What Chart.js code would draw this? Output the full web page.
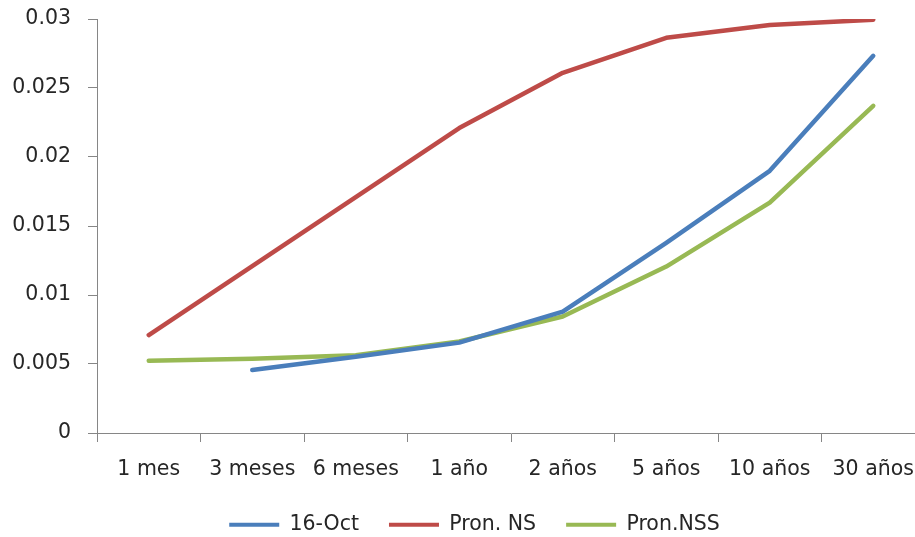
<!DOCTYPE html>
<html>
<head>
<meta charset="utf-8">
<script src="https://cdn.jsdelivr.net/npm/chart.js@4/dist/chart.umd.min.js"></script>
<style>
html,body{margin:0;padding:0;background:#fff;overflow:hidden;width:915px;height:537px;}
#wrap{position:absolute;left:0;top:0;width:966px;height:537px;}
</style>
</head>
<body>
<div id="wrap"><canvas id="c" width="966" height="537"></canvas></div>
<script>
const categories = ["1 mes","3 meses","6 meses","1 año","2 años","5 años","10 años","30 años"];
const seriesNames = ["16-Oct","Pron. NS","Pron.NSS"];
const octValues = [null,0.00457,0.00553,0.00655,0.0088,0.01378,0.0190,0.02733];
const nsValues = [0.0071,0.0121,0.0171,0.0221,0.0261,0.02864,0.02956,0.02995];
const nssValues = [0.00524,0.00538,0.00563,0.00663,0.00844,0.01206,0.0167,0.02371];
const yTicks = [0,0.005,0.01,0.015,0.02,0.025,0.03];
const yTickLabels = ["0","0.005","0.01","0.015","0.02","0.025","0.03"];

const FONT = "'DejaVu Sans', sans-serif";
const TXT = '#262626';
const AXIS = '#868686';

const legendShift = {
  id:'legendShift',
  afterLayout(chart){
    const l = chart.legend;
    if(!l) return;
    l.left += 12; l.right += 12;
    l.top += 8; l.bottom += 8;
  }
};

new Chart(document.getElementById('c'), {
  type: 'line',
  data: {
    labels: categories,
    datasets: [
      {label: seriesNames[0], data: octValues, borderColor:'#4a7ebb', backgroundColor:'#4a7ebb'},
      {label: seriesNames[1], data: nsValues, borderColor:'#be4b48', backgroundColor:'#be4b48'},
      {label: seriesNames[2], data: nssValues, borderColor:'#98b954', backgroundColor:'#98b954'}
    ].map(d => Object.assign(d, {borderWidth:4.5, pointRadius:0, tension:0, borderCapStyle:'round', borderJoinStyle:'round', fill:false}))
  },
  plugins:[legendShift],
  options: {
    responsive:false,
    animation:false,
    layout:{padding:{left:0,right:41,top:19,bottom:0}},
    plugins:{
      tooltip:{enabled:false},
      legend:{
        position:'bottom',
        labels:{
          font:{family:FONT,size:20.5},
          color:TXT,
          boxWidth:50,
          boxHeight:4,
          padding:30,
          generateLabels(chart){
            return chart.data.datasets.map((d,i)=>({text:d.label, fillStyle:d.borderColor, strokeStyle:d.borderColor, lineWidth:0, datasetIndex:i, fontColor:TXT}));
          }
        }
      }
    },
    scales:{
      x:{
        offset:true,
        afterFit(scale){ scale.height = 43.5; scale.paddingLeft = 0; scale.paddingRight = 0; },
        grid:{offset:true, drawOnChartArea:false, drawTicks:true, tickLength:9, color:AXIS, lineWidth:1},
        border:{color:AXIS, width:1},
        ticks:{font:{family:FONT,size:20.5}, color:TXT, maxRotation:0, autoSkip:false, padding:15}
      },
      y:{
        min:0, max:0.03,
        afterBuildTicks(scale){ scale.ticks = yTicks.map(v=>({value:v})); },
        afterFit(scale){ scale.width = 97; scale.paddingTop = 0; scale.paddingBottom = 0; },
        grid:{drawOnChartArea:false, drawTicks:true, tickLength:9, color:AXIS, lineWidth:1},
        border:{color:AXIS, width:1},
        ticks:{font:{family:FONT,size:20.5}, color:TXT, padding:17,
          callback(v){ const i = yTicks.findIndex(t=>Math.abs(t-v)<1e-9); return i>=0 ? yTickLabels[i] : ''; }}
      }
    }
  }
});
</script>
</body>
</html>
